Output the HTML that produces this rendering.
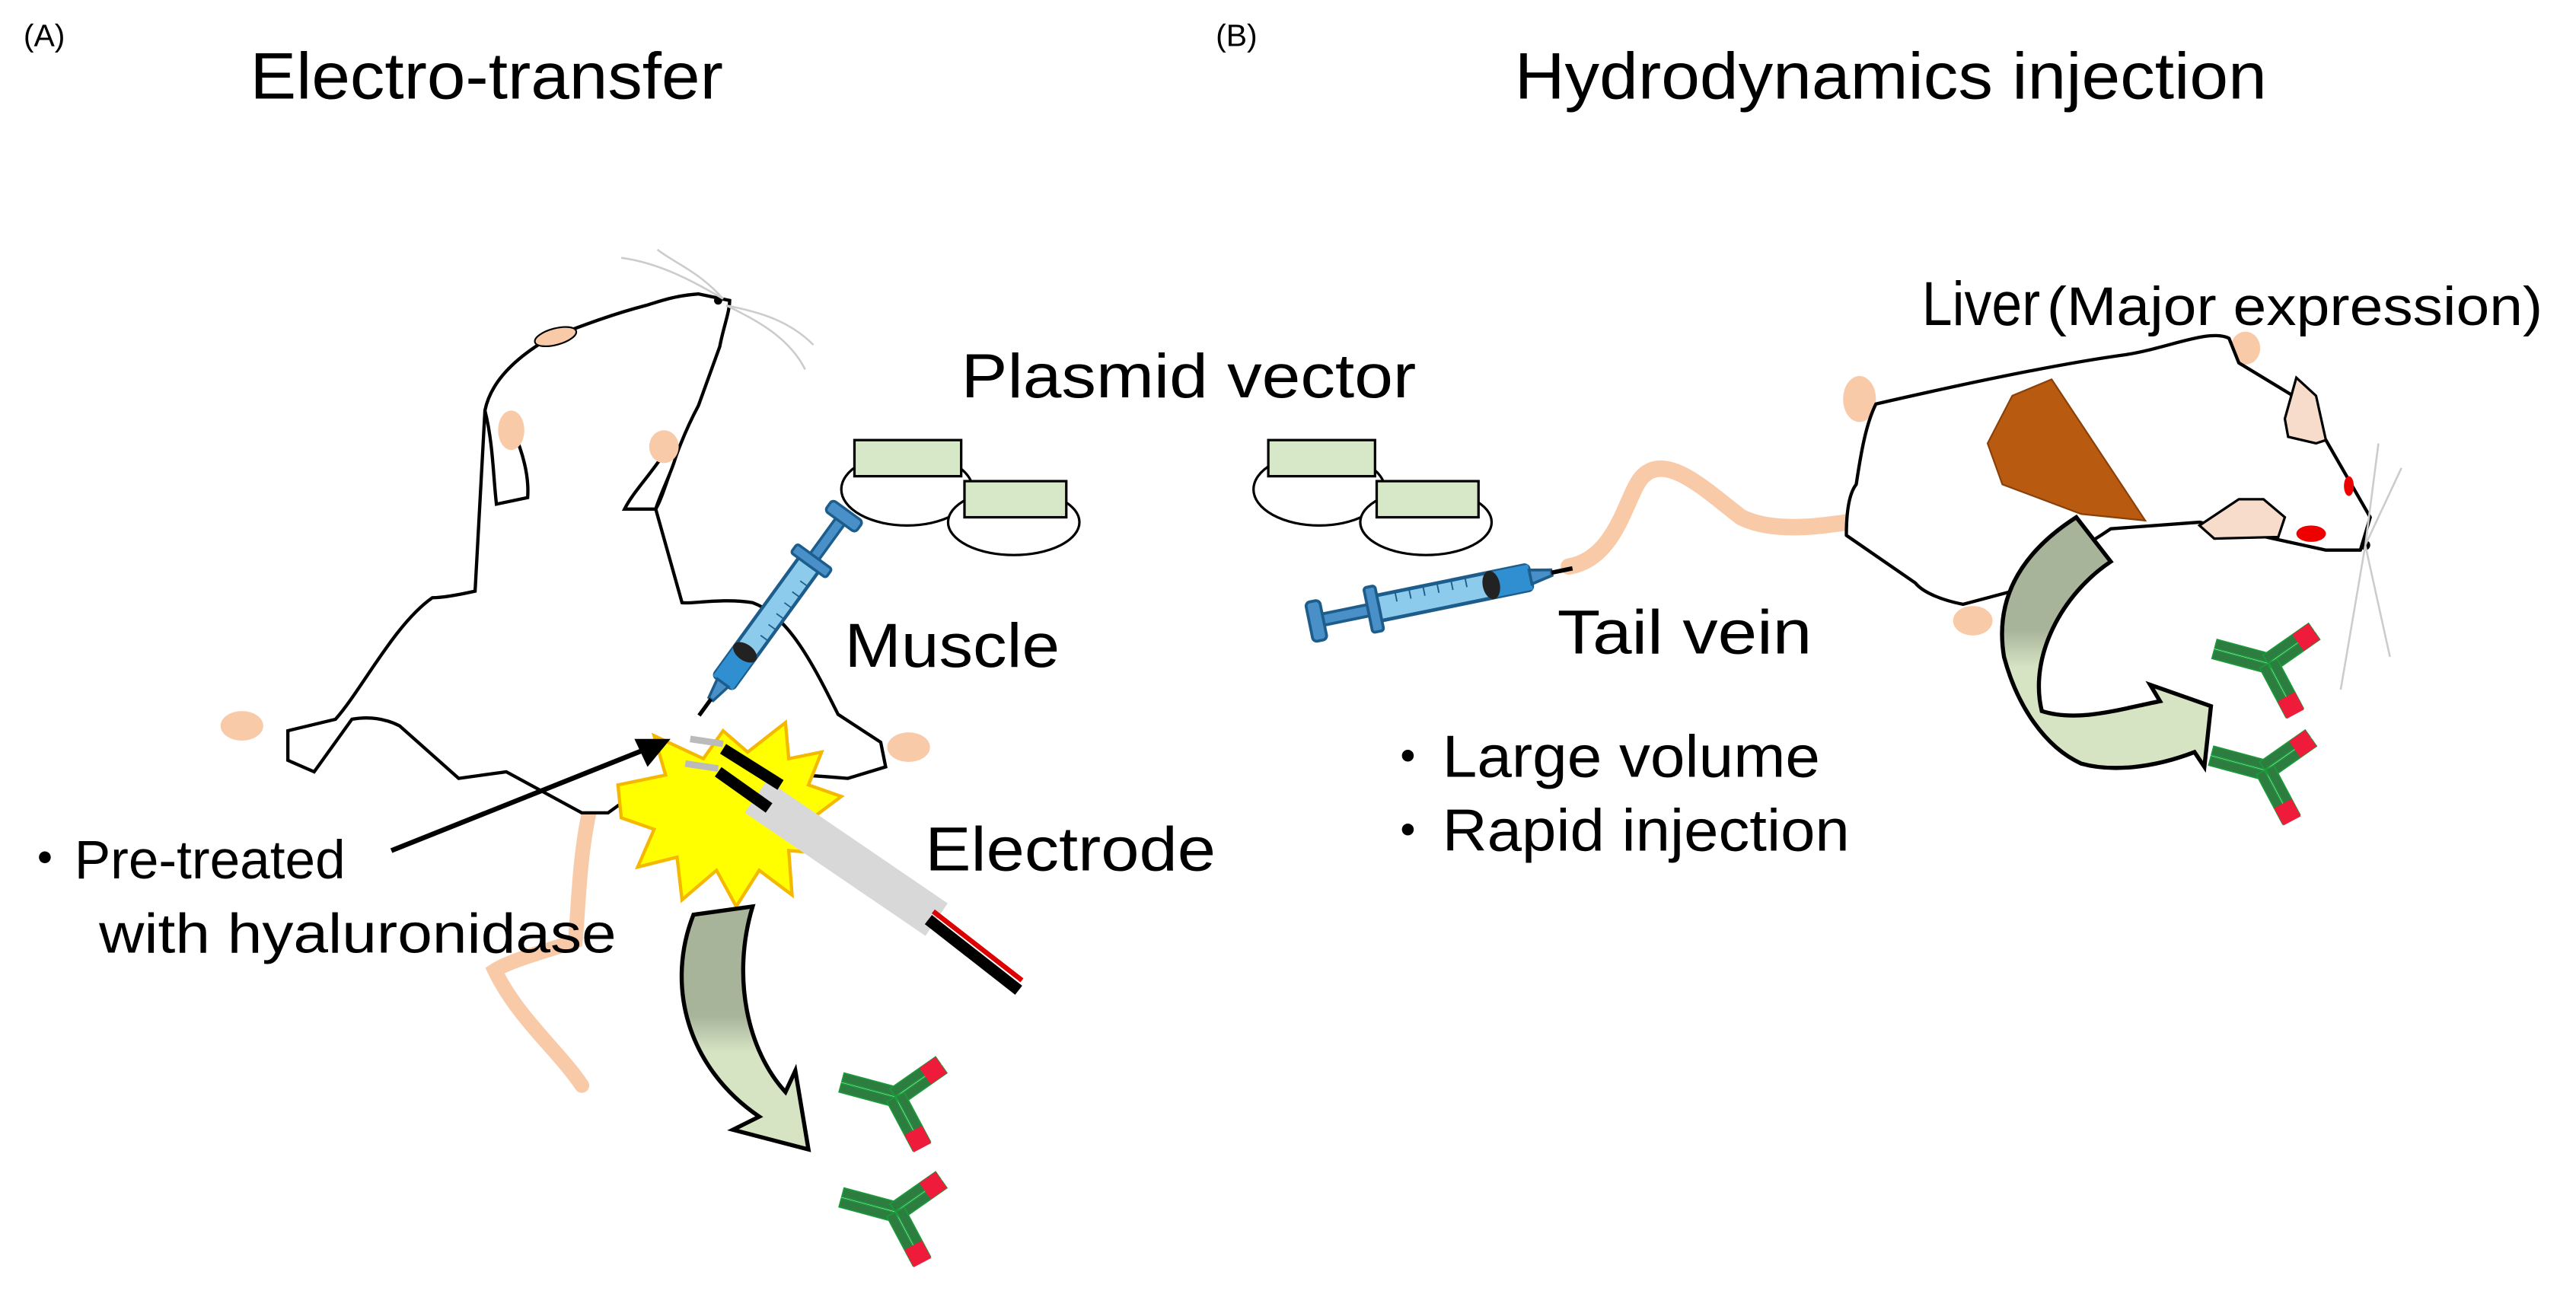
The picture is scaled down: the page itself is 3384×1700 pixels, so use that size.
<!DOCTYPE html>
<html><head><meta charset="utf-8"><style>
html,body{margin:0;padding:0;background:#fff;}
svg{display:block;}
text{font-family:"Liberation Sans",Arial,sans-serif;fill:#000;}
</style></head><body>
<svg width="3384" height="1700" viewBox="0 0 1568 788" xmlns="http://www.w3.org/2000/svg">
<defs>
<g id="bar2">
  <rect x="0" y="-6" width="34" height="5.5" fill="#2e7d40" stroke="#1a9a3a" stroke-width="0.8"/>
  <rect x="0" y="0.5" width="34" height="5.5" fill="#2e7d40" stroke="#1a9a3a" stroke-width="0.8"/>
</g>
<g id="ab">
  <g transform="rotate(195)"><use href="#bar2"/></g>
  <g transform="rotate(-35)"><use href="#bar2"/><rect x="22" y="-6" width="12" height="12" fill="#ee1c3a"/></g>
  <g transform="rotate(62)"><use href="#bar2"/><rect x="23" y="-6" width="12" height="12" fill="#ee1c3a"/></g>
</g>
<g id="syr">
  <rect x="0" y="-9" width="110" height="18" rx="3" fill="#8ccbeb" stroke="#1d5d8c" stroke-width="2.5"/>
  <rect x="-40" y="-4" width="42" height="8" fill="#4a90c8" stroke="#1d5d8c" stroke-width="2"/>
  <rect x="-48" y="-14" width="10" height="28" rx="3" fill="#4a90c8" stroke="#1d5d8c" stroke-width="2"/>
  <rect x="-6" y="-16" width="8" height="32" rx="2" fill="#4a90c8" stroke="#1d5d8c" stroke-width="2"/>
  <rect x="80" y="-9" width="30" height="18" fill="#2f8fd0"/>
  <ellipse cx="82" cy="0" rx="6" ry="10" fill="#222"/>
  <path d="M110 -5 L125 -2 L125 2 L110 5Z" fill="#4a90c8" stroke="#1d5d8c" stroke-width="2"/>
  <line x1="125" y1="0" x2="140" y2="0" stroke="#000" stroke-width="3"/>
  <g stroke="#1d5d8c" stroke-width="1"><line x1="15" y1="-9" x2="15" y2="-2"/><line x1="25" y1="-9" x2="25" y2="-2"/><line x1="35" y1="-9" x2="35" y2="-2"/><line x1="45" y1="-9" x2="45" y2="-2"/><line x1="55" y1="-9" x2="55" y2="-2"/><line x1="65" y1="-9" x2="65" y2="-2"/></g>
</g>
<linearGradient id="gA" x1="0" y1="0" x2="0" y2="1"><stop offset="0.45" stop-color="#a8b49a"/><stop offset="0.6" stop-color="#d6e4c4"/></linearGradient>
</defs>

<text x="14" y="28" font-size="19">(A)</text>
<text x="152" y="60" font-size="40" textLength="288" lengthAdjust="spacingAndGlyphs">Electro-transfer</text>
<text x="740" y="28" font-size="19">(B)</text>
<text x="922" y="60" font-size="40" textLength="458" lengthAdjust="spacingAndGlyphs">Hydrodynamics injection</text>

<!-- left mouse -->
<path d="M360 488 C 352 520 352 555 350 573 C 330 580 310 585 301 591 C 315 620 340 640 354 661" fill="none" stroke="#f8caa8" stroke-width="9" stroke-linecap="round"/>
<path d="M444 183 L425 179 C 410 180 400 184 393 186 C 370 192 350 200 334 206 C 310 220 298 235 295 250 L289 360 C 280 362 270 364 263 364 C 240 380 220 420 204 438 L175 445 L175 463 L191 470 L214 438 C 225 436 235 438 243 442 L279 474 L308 470 L354 495 L370 495 L399 474 C 430 470 470 470 516 474 L539 467 L536 452 L510 435 C 495 405 480 375 458 367 C 440 364 420 368 415 367 L399 310 C 405 300 410 275 425 247 L438 211 C 440 200 444 190 444 183Z" fill="#fff" stroke="#000" stroke-width="2"/>
<path d="M295 250 C 300 270 300 290 302 307 L321 303 C 322 290 318 275 312 262" fill="#fff" stroke="#000" stroke-width="2"/>
<path d="M405 275 C 395 290 385 300 380 310 L399 310 C 402 300 410 285 412 275" fill="#fff" stroke="#000" stroke-width="2"/>
<ellipse cx="311" cy="262" rx="8" ry="12" fill="#f8caa8"/>
<ellipse cx="404" cy="272" rx="9" ry="10" fill="#f8caa8"/>
<ellipse cx="147" cy="442" rx="13" ry="9" fill="#f8caa8"/>
<ellipse cx="553" cy="455" rx="13" ry="9" fill="#f8caa8"/>
<ellipse cx="338" cy="205" rx="13" ry="5" fill="#f8caa8" stroke="#000" stroke-width="1" transform="rotate(-15 338 205)"/>
<circle cx="437" cy="183" r="2.5" fill="#000"/>
<g stroke="#ccc" stroke-width="1.2" fill="none"><path d="M440 182 C 420 170 400 160 378 157"/><path d="M440 182 C 425 165 410 160 400 152"/><path d="M442 186 C 460 195 480 205 490 225"/><path d="M442 186 C 462 190 480 195 495 210"/></g>

<!-- starburst -->
<path d="M376 478 L405 472 L398 448 L428 462 L440 445 L455 458 L478 440 L480 462 L500 458 L492 478 L512 485 L492 500 L505 520 L480 518 L482 545 L462 530 L448 552 L436 530 L415 548 L412 522 L388 528 L398 505 L378 498Z" fill="#ffff00" stroke="#f5b800" stroke-width="2"/>
<!-- electrode -->
<line x1="460" y1="485" x2="570" y2="560" stroke="#d8d8d8" stroke-width="24"/>
<line x1="565" y1="560" x2="620" y2="603" stroke="#000" stroke-width="7"/>
<line x1="568" y1="555" x2="622" y2="597" stroke="#d00" stroke-width="3"/>
<line x1="420" y1="450" x2="440" y2="453" stroke="#bbb" stroke-width="4"/>
<line x1="417" y1="465" x2="437" y2="468" stroke="#bbb" stroke-width="4"/>
<line x1="440" y1="456" x2="475" y2="478" stroke="#000" stroke-width="7"/>
<line x1="437" y1="470" x2="468" y2="492" stroke="#000" stroke-width="7"/>

<!-- syringe left -->
<g transform="translate(516 311) rotate(126) scale(0.82) translate(48 0)"><use href="#syr"/></g>

<!-- arrow -->
<line x1="238" y1="518" x2="396" y2="455" stroke="#000" stroke-width="3"/>
<path d="M408 450 L386 450 L394 467Z" fill="#000"/>

<text x="514" y="406" font-size="38" textLength="131" lengthAdjust="spacingAndGlyphs">Muscle</text>
<text x="563" y="530" font-size="38" textLength="177" lengthAdjust="spacingAndGlyphs">Electrode</text>
<text x="10" y="535" font-size="34">・</text>
<text x="45" y="535" font-size="33" textLength="165" lengthAdjust="spacingAndGlyphs">Pre-treated</text>
<text x="60" y="580" font-size="34" textLength="315" lengthAdjust="spacingAndGlyphs">with hyaluronidase</text>

<!-- curved arrow left -->
<path d="M422 557 L458 552 C 445 595 455 640 478 665 L484 652 L492 700 L446 688 L462 680 C 418 650 405 600 422 557Z" fill="url(#gA)" stroke="#000" stroke-width="2.5"/>
<use href="#ab" x="545" y="668"/>
<use href="#ab" x="545" y="738"/>

<!-- plasmids -->
<g fill="#fff" stroke="#000" stroke-width="1.5">
<ellipse cx="552" cy="298" rx="40" ry="22"/><ellipse cx="617" cy="318" rx="40" ry="20"/>
<ellipse cx="803" cy="298" rx="40" ry="22"/><ellipse cx="868" cy="318" rx="40" ry="20"/>
</g>
<g fill="#d6e8c8" stroke="#000" stroke-width="1.5">
<rect x="520" y="268" width="65" height="22"/><rect x="587" y="293" width="62" height="22"/>
<rect x="772" y="268" width="65" height="22"/><rect x="838" y="293" width="62" height="22"/>
</g>
<text x="585" y="242" font-size="38" textLength="277" lengthAdjust="spacingAndGlyphs">Plasmid vector</text>

<!-- right mouse -->
<path d="M955 345 C 985 340 990 300 1000 290 C 1015 275 1040 300 1060 315 C 1080 325 1110 320 1125 318" fill="none" stroke="#f8caa8" stroke-width="10" stroke-linecap="round"/>
<ellipse cx="1132" cy="243" rx="10" ry="14" fill="#f8caa8"/>
<ellipse cx="1367" cy="212" rx="9" ry="10" fill="#f8caa8"/>
<ellipse cx="1201" cy="378" rx="12" ry="9" fill="#f8caa8"/>
<path d="M1142 246 C 1190 235 1250 222 1294 216 C 1320 212 1345 200 1357 206 L1363 221 L1396 241 L1416 268 L1443 315 L1437 335 L1416 335 L1384 328 L1339 318 L1285 322 L1279 326 L1225 360 L1195 368 C 1180 365 1170 360 1166 355 L1124 326 C 1124 310 1126 300 1130 295 C 1133 275 1136 258 1142 246 Z" fill="#fff" stroke="#000" stroke-width="2" stroke-linejoin="round"/>
<path d="M1398 230 L1410 241 L1416 268 L1410 270 L1393 266 L1391 255Z" fill="#f8dccb" stroke="#000" stroke-width="1.5"/>
<path d="M1339 320 L1363 304 L1378 304 L1391 315 L1387 327 L1348 328Z" fill="#f8dccb" stroke="#000" stroke-width="1.5"/>
<ellipse cx="1430" cy="296" rx="3" ry="6" fill="#e00"/><ellipse cx="1407" cy="325" rx="9" ry="5" fill="#e00"/>
<circle cx="1440" cy="332" r="3" fill="#000"/>
<g stroke="#ccc" stroke-width="1.2" fill="none"><path d="M1440 332 L1448 270"/><path d="M1440 332 L1462 285"/><path d="M1440 332 L1455 400"/><path d="M1440 332 L1425 420"/></g>
<path d="M1225 241 L1249 231 L1306 317 L1267 313 L1219 295 L1210 270Z" fill="#b85a10" stroke="#8a4008" stroke-width="1"/>

<g transform="translate(797 379) rotate(-11.6) scale(0.87) translate(48 0)"><use href="#syr"/></g>
<text x="948" y="398" font-size="38" textLength="155" lengthAdjust="spacingAndGlyphs">Tail vein</text>
<text x="840" y="473" font-size="34">・</text>
<text x="878" y="473" font-size="36" textLength="230" lengthAdjust="spacingAndGlyphs">Large volume</text>
<text x="840" y="518" font-size="34">・</text>
<text x="878" y="518" font-size="36" textLength="248" lengthAdjust="spacingAndGlyphs">Rapid injection</text>
<text x="1170" y="198" font-size="38" textLength="72" lengthAdjust="spacingAndGlyphs">Liver</text>
<text x="1246" y="198" font-size="33" textLength="302" lengthAdjust="spacingAndGlyphs">(Major expression)</text>

<path d="M1264 315 L1285 342 C 1255 362 1235 400 1243 433 C 1265 440 1290 432 1315 427 L1309 417 L1346 430 L1342 467 L1336 458 C 1310 468 1285 470 1267 465 C 1245 455 1228 430 1220 400 C 1215 370 1225 340 1264 315Z" fill="url(#gA)" stroke="#000" stroke-width="2.5"/>
<use href="#ab" x="1381" y="404"/>
<use href="#ab" x="1379" y="469"/>
</svg>
</body></html>
